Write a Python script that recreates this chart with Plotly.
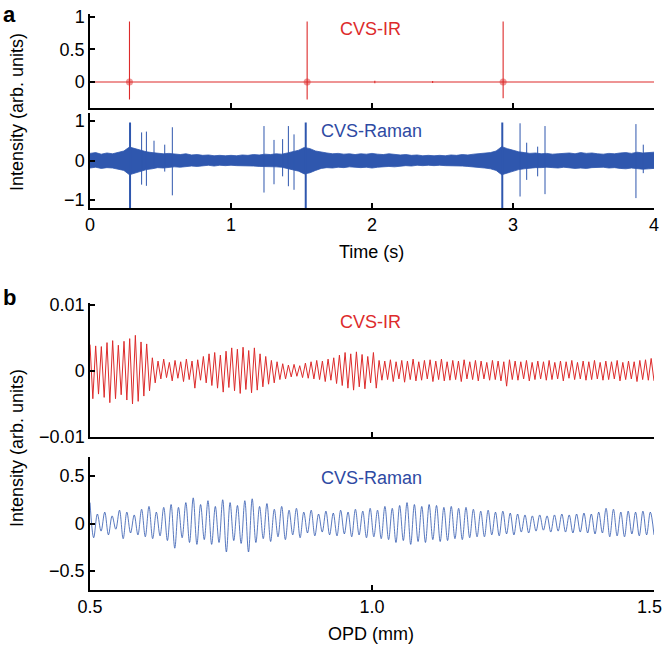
import numpy as np
import plotly.graph_objects as go

# ---------------- Panel a data (time domain, s) ----------------
ir_burst_t = [0.28, 1.54, 2.93]
ir_burst_max = [0.93, 0.93, 0.93]
ir_burst_min = [-0.27, -0.27, -0.25]
ir_blip_t = [2.02, 2.43]
ir_blip_amp = [0.02, 0.015]

raman_band_upper = [
    0.18, 0.20, 0.16, 0.19, 0.17, 0.21, 0.24, 0.34, 0.30, 0.25,
    0.22, 0.20, 0.19, 0.17, 0.18, 0.16, 0.15, 0.17, 0.14, 0.15,
    0.13, 0.14, 0.12, 0.13, 0.12, 0.13, 0.12, 0.14, 0.13, 0.15,
    0.14, 0.16, 0.15, 0.17, 0.16, 0.19, 0.22, 0.26, 0.33, 0.30,
    0.24, 0.21, 0.19, 0.17, 0.18, 0.16, 0.17, 0.15, 0.17, 0.16,
    0.18, 0.16, 0.15, 0.17, 0.15, 0.14, 0.15, 0.13, 0.14, 0.12,
    0.13, 0.12, 0.13, 0.12, 0.14, 0.13, 0.15, 0.14, 0.16, 0.17,
    0.18, 0.20, 0.24, 0.35, 0.30, 0.25, 0.22, 0.20, 0.18, 0.19,
    0.17, 0.18, 0.16, 0.17, 0.18, 0.19, 0.17, 0.20, 0.18, 0.19,
    0.17, 0.16, 0.18, 0.17, 0.19, 0.20, 0.18, 0.21, 0.19, 0.20,
    0.21]
raman_band_lower = [
    -0.19, -0.17, -0.20, -0.18, -0.19, -0.22, -0.25, -0.36, -0.31, -0.26,
    -0.23, -0.21, -0.18, -0.19, -0.17, -0.16, -0.17, -0.15, -0.14, -0.15,
    -0.13, -0.12, -0.14, -0.12, -0.13, -0.12, -0.13, -0.13, -0.14, -0.14,
    -0.15, -0.15, -0.16, -0.16, -0.17, -0.20, -0.23, -0.27, -0.34, -0.31,
    -0.25, -0.20, -0.18, -0.19, -0.17, -0.18, -0.16, -0.17, -0.18, -0.17,
    -0.19, -0.17, -0.16, -0.15, -0.16, -0.14, -0.13, -0.14, -0.12, -0.13,
    -0.12, -0.13, -0.12, -0.13, -0.13, -0.14, -0.14, -0.15, -0.16, -0.18,
    -0.19, -0.21, -0.25, -0.36, -0.31, -0.26, -0.23, -0.21, -0.19, -0.18,
    -0.18, -0.17, -0.18, -0.19, -0.17, -0.18, -0.20, -0.19, -0.20, -0.18,
    -0.18, -0.17, -0.19, -0.18, -0.20, -0.21, -0.19, -0.20, -0.22, -0.21,
    -0.20]

raman_big_t = [0.284, 1.53, 2.924]
raman_big_max = [0.96, 0.96, 0.96]
raman_big_min = [-1.25, -1.25, -1.25]

raman_spike_t = [0.366, 0.40, 0.454, 0.53, 0.584, 1.234, 1.305, 1.366, 1.407,
                 1.447, 3.05, 3.097, 3.175, 3.227, 3.872, 3.924]
raman_spike_max = [0.71, 0.73, 0.50, 0.40, 0.84, 0.87, 0.52, 0.54, 0.87,
                   0.66, 0.94, 0.45, 0.35, 0.87, 0.92, 0.40]
raman_spike_min = [-0.61, -0.64, -0.15, -0.28, -0.88, -0.81, -0.60, -0.40, -0.65,
                   -0.74, -0.91, -0.49, -0.40, -0.85, -0.95, -0.32]

# ---------------- Panel b data (OPD, mm) ----------------
# CVS-IR extrema per fringe, in units of 1e-3
ir_max_milli = [
    4.0, 3.8, 3.7, 4.3, 4.6, 3.9, 4.5, 4.9, 5.4, 4.4,
    4.1, 2.0, 1.5, 1.8, 1.3, 1.6, 1.4, 1.8, 1.5, 1.7,
    2.2, 2.6, 2.8, 2.4, 3.0, 3.5, 3.3, 3.6, 3.1, 3.5,
    2.6, 2.2, 1.6, 1.4, 1.1, 0.9, 1.0, 0.8, 1.2, 1.4,
    1.6, 1.5, 1.8, 2.0, 2.4, 2.8, 2.6, 2.9, 2.5, 2.2,
    2.8, 1.6, 1.5, 1.7, 1.4, 1.6, 1.5, 1.8, 1.4, 1.6,
    1.7, 1.5, 1.8, 1.4, 1.6, 1.5, 1.7, 1.4, 1.6, 1.5,
    1.3, 1.6, 1.5, 1.4, 1.7, 1.5, 1.4, 1.6, 1.3, 1.5,
    1.4, 1.6, 1.3, 1.5, 1.4, 1.6, 1.3, 1.5, 1.4, 1.6,
    1.3, 1.5, 1.4, 1.6, 1.3, 1.5, 1.4, 1.6, 1.7, 1.9]
ir_min_milli = [
    -4.2, -3.5, -4.0, -4.8, -4.2, -3.6, -4.4, -5.0, -4.6, -3.8,
    -3.0, -1.8, -1.2, -1.0, -1.5, -1.1, -1.6, -1.3, -2.6, -1.4,
    -1.8, -2.2, -2.6, -3.2, -2.5, -3.0, -3.4, -2.8, -3.3, -2.9,
    -2.4, -2.0, -1.8, -1.3, -1.2, -0.9, -0.8, -1.0, -1.1, -1.2,
    -1.3, -1.6, -1.4, -1.9, -2.2, -2.6, -2.9, -2.4, -2.7, -1.8,
    -2.6, -1.4, -1.3, -1.6, -1.2, -1.7, -1.3, -1.5, -1.4, -1.2,
    -1.6, -1.3, -1.5, -1.4, -1.3, -1.6, -1.2, -1.3, -1.5, -1.2,
    -1.4, -1.3, -1.5, -2.3, -1.3, -1.4, -1.2, -1.5, -1.3, -1.2,
    -1.4, -1.3, -1.2, -1.5, -1.1, -1.3, -1.2, -1.4, -1.3, -1.2,
    -1.4, -1.3, -1.2, -1.5, -1.3, -1.2, -1.6, -1.3, -1.4, -1.5]

# CVS-Raman extrema per fringe, in units of 0.01
raman_max_cent = [
    22, 10, 12, 8, 14, 12, 9, 15, 18, 12,
    17, 20, 17, 22, 27, 20, 24, 18, 25, 22,
    19, 24, 26, 18, 21, 15, 18, 14, 16, 12,
    14, 10, 13, 11, 14, 12, 15, 13, 16, 14,
    18, 16, 19, 22, 20, 18, 20, 19, 17, 18,
    16, 17, 15, 13, 14, 12, 13, 11, 10, 9,
    8, 9, 8, 9, 10, 9, 10, 11, 10, 12,
    16, 15, 12, 13, 12, 13, 12]
raman_min_cent = [
    -15, -8, -12, -6, -16, -10, -12, -14, -16, -13,
    -18, -26, -15, -20, -22, -17, -22, -20, -30, -18,
    -21, -30, -20, -16, -19, -14, -17, -12, -15, -10,
    -13, -9, -12, -13, -11, -14, -12, -15, -14, -16,
    -17, -20, -18, -22, -19, -20, -17, -19, -18, -16,
    -17, -15, -14, -14, -12, -13, -11, -12, -9, -10,
    -8, -7, -9, -8, -9, -10, -9, -10, -11, -10,
    -14, -13, -14, -11, -13, -12, -12]

opd_ticks = [0.5, 1.0, 1.5]
opd_tick_labels = ["0.5", "1.0", "1.5"]

# ---------------- styling ----------------
RED = "#dd2b2b"
BLUE = "#2f57ae"
TXT_BLUE = "#2e4aa3"
FONT = "Liberation Sans, Arial, Helvetica, sans-serif"
W, H = 665, 645


def px_x(p):
    return p / W


def px_y(p):
    return 1 - p / H


fig = go.Figure()

# ---- a-top: CVS-IR time trace ----
events = []
for t, mx, mn in zip(ir_burst_t, ir_burst_max, ir_burst_min):
    events.append((t, [0.0, mx, mn, 0.0]))
for t, a in zip(ir_blip_t, ir_blip_amp):
    events.append((t, [0.0, a, -a, 0.0]))
events.sort(key=lambda e: e[0])
ir_x, ir_y = [0.0], [0.0]
for t, ys in events:
    ir_x += [t] * len(ys)
    ir_y += ys
ir_x.append(4.0)
ir_y.append(0.0)
fig.add_trace(go.Scatter(x=ir_x, y=ir_y, mode="lines",
                         line=dict(color=RED, width=1.1), xaxis="x", yaxis="y",
                         showlegend=False, hoverinfo="skip"))
fig.add_trace(go.Scatter(x=ir_burst_t, y=[0] * len(ir_burst_t), mode="markers",
                         marker=dict(color=RED, size=7, opacity=0.5),
                         xaxis="x", yaxis="y", showlegend=False, hoverinfo="skip"))

# ---- a-bottom: CVS-Raman time trace ----
band_t = np.linspace(0, 4, len(raman_band_upper))
fig.add_trace(go.Scatter(x=band_t, y=raman_band_lower, mode="lines",
                         line=dict(color=BLUE, width=0.8), xaxis="x2", yaxis="y2",
                         showlegend=False, hoverinfo="skip"))
fig.add_trace(go.Scatter(x=band_t, y=raman_band_upper, mode="lines",
                         line=dict(color=BLUE, width=0.8), fill="tonexty",
                         fillcolor=BLUE, xaxis="x2", yaxis="y2",
                         showlegend=False, hoverinfo="skip"))
sx, sy = [], []
for t, mx, mn in zip(raman_spike_t, raman_spike_max, raman_spike_min):
    sx += [t, t, None]
    sy += [mx, mn, None]
fig.add_trace(go.Scatter(x=sx, y=sy, mode="lines", line=dict(color=BLUE, width=1),
                         xaxis="x2", yaxis="y2", showlegend=False, hoverinfo="skip"))
bx, by = [], []
for t, mx, mn in zip(raman_big_t, raman_big_max, raman_big_min):
    bx += [t, t, None]
    by += [mx, mn, None]
fig.add_trace(go.Scatter(x=bx, y=by, mode="lines", line=dict(color=BLUE, width=2),
                         xaxis="x2", yaxis="y2", showlegend=False, hoverinfo="skip"))

# ---- b-top: CVS-IR interferogram ----
ir_vals = []
for mx, mn in zip(ir_max_milli, ir_min_milli):
    ir_vals += [mx * 1e-3, mn * 1e-3]
ir_opd = np.linspace(0.5, 1.5, len(ir_vals))
fig.add_trace(go.Scatter(x=ir_opd, y=ir_vals, mode="lines",
                         line=dict(color=RED, width=1), xaxis="x3", yaxis="y3",
                         showlegend=False, hoverinfo="skip"))

# ---- b-bottom: CVS-Raman interferogram ----
ra_vals = []
for mx, mn in zip(raman_max_cent, raman_min_cent):
    ra_vals += [mx / 100, mn / 100]
ra_opd = np.linspace(0.5, 1.5, len(ra_vals))
fig.add_trace(go.Scatter(x=ra_opd, y=ra_vals, mode="lines",
                         line=dict(color=BLUE, width=0.8, shape="spline", smoothing=1.0),
                         xaxis="x4", yaxis="y4", showlegend=False, hoverinfo="skip"))

# ---------------- axes ----------------
xdom = [px_x(90), px_x(654)]
axis_common = dict(showline=True, linecolor="black", linewidth=1.5, ticks="inside",
                   ticklen=5, tickwidth=1.5, tickcolor="black", showgrid=False,
                   zeroline=False, automargin=False, ticklabeloverflow="allow",
                   tickfont=dict(family=FONT, size=18, color="black"))

fig.update_layout(
    width=W, height=H, margin=dict(l=0, r=0, t=0, b=0, autoexpand=False),
    paper_bgcolor="white", plot_bgcolor="white",
    xaxis=dict(domain=xdom, range=[0, 4], anchor="y", tickvals=[0, 1, 2, 3, 4],
               showticklabels=False, **axis_common),
    yaxis=dict(domain=[px_y(108), px_y(14)], range=[-0.40, 1.046], anchor="x",
               tickvals=[0, 0.5, 1], ticktext=["0", "0.5", "1"], **axis_common),
    xaxis2=dict(domain=xdom, range=[0, 4], anchor="y2", tickvals=[0, 1, 2, 3, 4],
                ticktext=["0", "1", "2", "3", "4"], **axis_common),
    yaxis2=dict(domain=[px_y(208), px_y(113)], range=[-1.2, 1.2], anchor="x2",
                tickvals=[-1, 0, 1], ticktext=["\u22121", "0", "1"], **axis_common),
    xaxis3=dict(domain=xdom, range=[0.5, 1.5], anchor="y3", tickvals=opd_ticks,
                showticklabels=False, **axis_common),
    yaxis3=dict(domain=[px_y(437), px_y(303)], range=[-0.01, 0.0103], anchor="x3",
                tickvals=[-0.01, 0, 0.01], ticktext=["\u22120.01", "0", "0.01"],
                **axis_common),
    xaxis4=dict(domain=xdom, range=[0.5, 1.5], anchor="y4", tickvals=opd_ticks,
                ticktext=opd_tick_labels[:-1] + [""], **axis_common),
    yaxis4=dict(domain=[px_y(590), px_y(457)], range=[-0.7, 0.7], anchor="x4",
                tickvals=[-0.5, 0, 0.5], ticktext=["\u22120.5", "0", "0.5"],
                **axis_common),
)

ann = []


def add_text(text, x, y, size=18, color="black", bold=False, angle=0,
             xanchor="center", yanchor="middle"):
    ann.append(dict(text=("<b>%s</b>" % text) if bold else text, x=px_x(x), y=px_y(y),
                    xref="paper", yref="paper", showarrow=False, textangle=angle,
                    xanchor=xanchor, yanchor=yanchor,
                    font=dict(family=FONT, size=size, color=color)))


add_text("a", 1, 0, size=22, bold=True, xanchor="left", yanchor="top")
add_text("b", 1, 283, size=22, bold=True, xanchor="left", yanchor="top")
add_text("Intensity (arb. units)", 17, 112, angle=-90)
add_text("Intensity (arb. units)", 17, 448, angle=-90)
add_text("Time (s)", 372, 252)
add_text("OPD (mm)", 371, 634)
add_text(opd_tick_labels[-1], 664, 607, xanchor="right")
add_text("CVS-IR", 370, 29, color=RED)
add_text("CVS-Raman", 372, 131, color=TXT_BLUE)
add_text("CVS-IR", 370, 322, color=RED)
add_text("CVS-Raman", 371, 478, color=TXT_BLUE)
fig.update_layout(annotations=ann)

fig.write_html(
    "out.html",
    config={"displayModeBar": False},
    post_script="document.body.style.margin='0';document.body.style.padding='0';"
                "document.documentElement.style.overflow='hidden';",
)
